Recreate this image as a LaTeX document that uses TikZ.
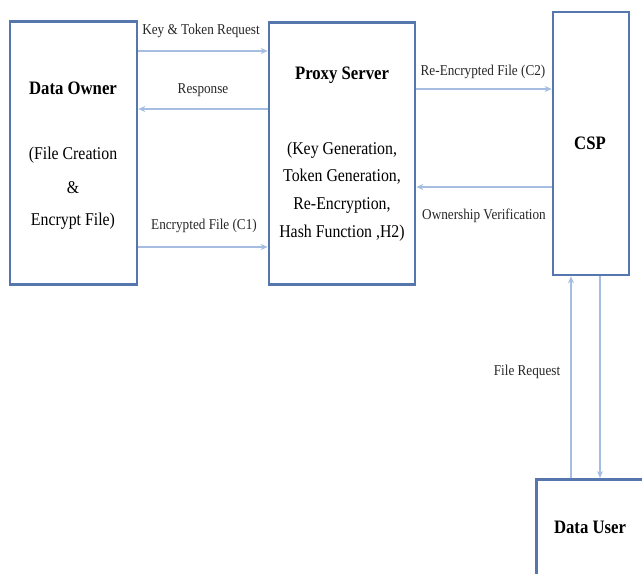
\documentclass[tikz,border=0pt]{standalone}
\usepackage{fontspec}
\setmainfont{Liberation Serif}[FakeStretch=0.88]
\usetikzlibrary{arrows.meta}
\definecolor{boxblue}{HTML}{5677AD}
\definecolor{arrblue}{HTML}{A4BDE0}
\tikzset{
  box/.style={draw=boxblue, line width=2.6pt, fill=none, inner sep=0pt},
  conn/.style={draw=arrblue, line width=2pt, -{Stealth[length=7pt,width=6pt]}},
  title/.style={font=\fontsize{19}{22}\selectfont\bfseries, inner sep=0pt},
  body/.style={font=\fontsize{18}{22}\selectfont, inner sep=0pt, align=center},
  lab/.style={font=\fontsize{15}{17}\selectfont, inner sep=0pt, text=black!85},
}
\begin{document}
\begin{tikzpicture}[x=1pt,y=-1pt]
\useasboundingbox (0,0) rectangle (642,573);
\clip (0,0) rectangle (642,573);
% boxes
\node[box, minimum width=127pt, minimum height=263pt] (do) at (73.5,153) {};
\node[box, minimum width=146pt, minimum height=262pt] (ps) at (342,153.5) {};
\node[box, minimum width=76pt, minimum height=263pt] (csp) at (591,143.5) {};
\node[box, minimum width=120pt, minimum height=110pt, anchor=north west] (du) at (535,478) {};
% texts
\node[title] (dot) at (73,88) {Data Owner};
\node[body] (do1) at (73,155) {(File Creation};
\node[body] (do2) at (73,188) {\&};
\node[body] (do3) at (73,221) {Encrypt File)};
\node[title] (pst) at (342,75) {Proxy Server};
\node[body] (ps1) at (342,150) {(Key Generation,};
\node[body] (ps2) at (342,177) {Token Generation,};
\node[body] (ps3) at (342,205) {Re-Encryption,};
\node[body] (ps4) at (342,233) {Hash Function ,H2)};
\node[title] (cspt) at (590,143) {CSP};
\node[title] (dut) at (590,527) {Data User};
% connectors
\draw[conn] (do.east |- 0,51) -- (ps.west |- 0,51);
\draw[conn] (ps.west |- 0,109) -- (do.east |- 0,109);
\draw[conn] (do.east |- 0,247) -- (ps.west |- 0,247);
\draw[conn] (ps.east |- 0,89) -- (csp.west |- 0,89);
\draw[conn] (csp.west |- 0,187) -- (ps.east |- 0,187);
\draw[conn] (du.north -| 571,0) -- (csp.south -| 571,0);
\draw[conn] (csp.south -| 600,0) -- (du.north -| 600,0);
% labels
\node[lab] (l1) at (201,31) {Key \& Token Request};
\node[lab] (l2) at (203,90) {Response};
\node[lab] (l3) at (204,226) {Encrypted File (C1)};
\node[lab] (l4) at (483,72) {Re-Encrypted File (C2)};
\node[lab] (l5) at (484,216) {Ownership Verification};
\node[lab] (l6) at (527,372) {File Request};
\end{tikzpicture}
\end{document}
